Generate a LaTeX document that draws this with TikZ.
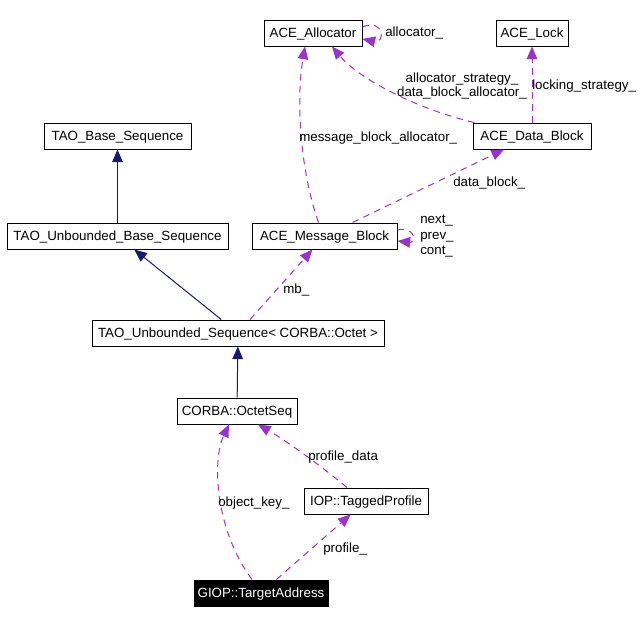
\documentclass[tikz,border=0pt]{standalone}
\usepackage{fontspec}
\setmainfont{Liberation Sans}
\usetikzlibrary{arrows.meta}
\definecolor{edgepurple}{RGB}{154,50,205}
\definecolor{inhnavy}{RGB}{25,25,112}
\begin{document}
\begin{tikzpicture}[x=0.75pt,y=-0.75pt,
  font=\fontsize{10}{12}\selectfont,
  box/.style={draw=black, line width=0.75pt, minimum height=19.5pt, inner sep=0pt, fill=white, text depth=0.5pt},
  inh/.style={draw=inhnavy, line width=0.75pt, -{Triangle[length=9.5pt,width=8pt]}},
  use/.style={draw=edgepurple, line width=0.75pt, dash pattern=on 5pt off 4pt, -{Triangle[length=9.5pt,width=8pt]}},
  lbl/.style={inner sep=0pt}]
\useasboundingbox (0,0) rectangle (644,622);
% nodes
\node[box, minimum width=73.5pt] (alloc) at (313,33) {ACE\_Allocator};
\node[box, minimum width=54pt] (lock) at (532,33) {ACE\_Lock};
\node[box, minimum width=110.25pt] (tbs) at (117.5,136) {TAO\_Base\_Sequence};
\node[box, minimum width=88.5pt] (adb) at (532,136) {ACE\_Data\_Block};
\node[box, minimum width=165.75pt] (tubs) at (117.5,236) {TAO\_Unbounded\_Base\_Sequence};
\node[box, minimum width=108.75pt] (amb) at (324.5,236) {ACE\_Message\_Block};
\node[box, minimum width=219pt] (tus) at (238,333) {TAO\_Unbounded\_Sequence< CORBA::Octet >};
\node[box, minimum width=90pt] (ocs) at (237,411) {CORBA::OctetSeq};
\node[box, minimum width=93pt] (itp) at (366,501) {IOP::TaggedProfile};
\node[box, minimum width=100.5pt, fill=black, text=white] (giop) at (261,593) {GIOP::TargetAddress};
% inheritance
\draw[inh] (tubs) -- (tbs);
\draw[inh] (tus) -- (tubs);
\draw[inh] (ocs) -- (tus);
% usage
\draw[use] ([shift={(0,-6)}]alloc.east) .. controls (385,18) and (385,44) .. ([shift={(0,6)}]alloc.east);
\draw[use] (adb) -- (lock);
\draw[use] ([shift={(2,0)}]adb.north west) .. controls (420,110) and (360,80) .. ([shift={(19,0)}]alloc.south);
\draw[use] ([shift={(-6,0)}]amb.north) .. controls (300,170) and (296,100) .. ([shift={(-8,0)}]alloc.south);
\draw[use] (amb) -- (adb);
\draw[use] ([shift={(0,-6)}]amb.east) .. controls (416,226) and (416,243) .. ([shift={(0,5)}]amb.east);
\draw[use] (tus) -- (amb);
\draw[use] ([shift={(-19,0)}]itp.north) .. controls (320,465) and (285,440) .. ([shift={(21,0)}]ocs.south);
\draw[use] ([shift={(-9,0)}]giop.north) .. controls (215,530) and (212,460) .. ([shift={(-8,0)}]ocs.south);
\draw[use] (giop) -- (itp);
% labels
\node[lbl, anchor=west] (l1) at (385,33) {allocator\_};
\node[lbl] (l2) at (462,79) {allocator\_strategy\_};
\node[lbl] (l3) at (462,93) {data\_block\_allocator\_};
\node[lbl, anchor=west] (l4) at (532,86) {locking\_strategy\_};
\node[lbl, anchor=west] (l5) at (299,138) {message\_block\_allocator\_};
\node[lbl, anchor=west] (l6) at (453,183) {data\_block\_};
\node[lbl, anchor=west] (l7) at (420,221) {next\_};
\node[lbl, anchor=west] (l8) at (420,237) {prev\_};
\node[lbl, anchor=west] (l9) at (420,252) {cont\_};
\node[lbl, anchor=west] (l10) at (283,290) {mb\_};
\node[lbl, anchor=west] (l11) at (308,457) {profile\_data};
\node[lbl, anchor=west] (l12) at (218,503) {object\_key\_};
\node[lbl, anchor=west] (l13) at (323,549) {profile\_};
\end{tikzpicture}
\end{document}
